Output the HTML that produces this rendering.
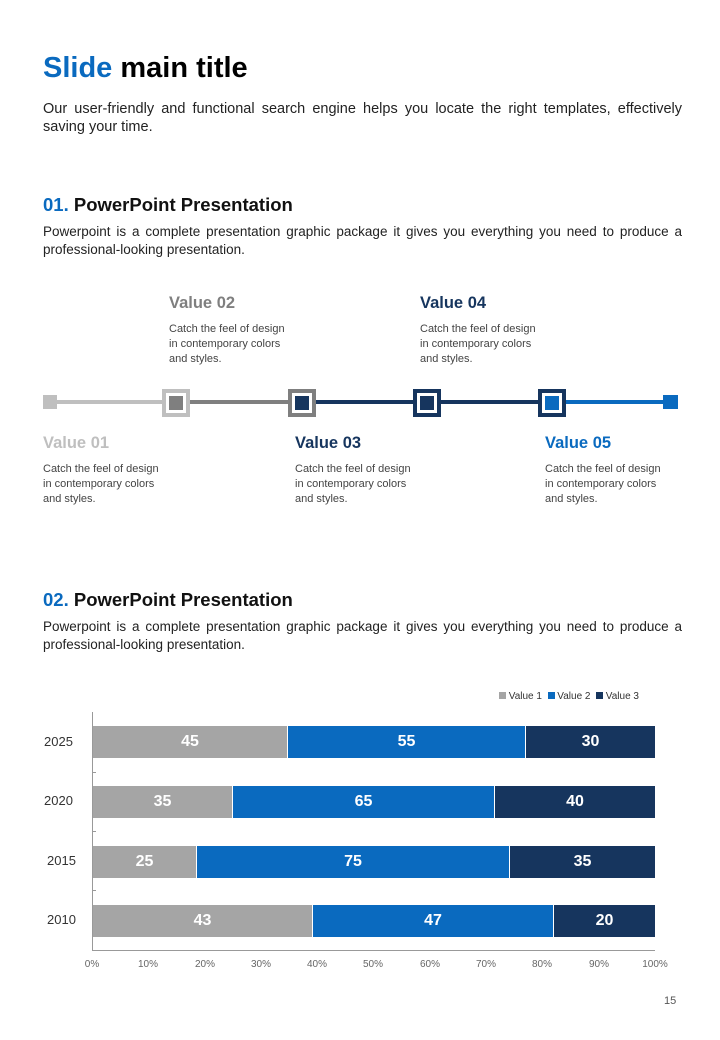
<!DOCTYPE html>
<html><head><meta charset="utf-8"><style>
body{margin:0;width:720px;height:1040px;background:#fff;position:relative;font-family:"Liberation Sans",sans-serif;color:#222;overflow:hidden}
.a{position:absolute}
.p{left:43px;width:639px;font-size:13.5px;line-height:18px;text-align:justify;text-align-last:left}
.h{font-size:18.5px;font-weight:bold;color:#111}
.b{color:#0a6abf}
.vt{font-size:16.5px;font-weight:bold}
.vd{font-size:11px;line-height:15px;color:#444}
.seg{position:absolute;height:4px;top:400px}
.bar{position:absolute;height:32px;color:#fff;font-size:16px;font-weight:bold;text-align:center;line-height:32px}
.yl{position:absolute;left:40px;font-size:13px;color:#333}
.xl{position:absolute;top:959px;font-size:10px;color:#666;width:40px;margin-left:-20px;text-align:center}
</style></head><body>
<div class="a" style="left:43px;top:52px;font-size:29px;font-weight:bold;color:#000"><span class="b">Slide</span> main title</div>
<div class="a p" style="top:100px;font-size:14.5px">Our user-friendly and functional search engine helps you locate the right templates, effectively saving your time.</div>
<div class="a h" style="left:43px;top:194px"><span class="b">01.</span> PowerPoint Presentation</div>
<div class="a p" style="top:223px">Powerpoint is a complete presentation graphic package it gives you everything you need to produce a professional-looking presentation.</div>

<div class="seg" style="left:57px;width:105px;background:#bfbfbf"></div>
<div class="seg" style="left:190px;width:98px;background:#7f7f7f"></div>
<div class="seg" style="left:316px;width:97px;background:#16355e"></div>
<div class="seg" style="left:441px;width:97px;background:#16355e"></div>
<div class="seg" style="left:566px;width:97px;background:#0a6abf"></div>
<div class="a" style="left:43px;top:395px;width:14px;height:14px;background:#bfbfbf"></div>
<div class="a" style="left:663px;top:395px;width:15px;height:14px;background:#0a6abf"></div>
<div class="a" style="left:162px;top:389px;width:20px;height:20px;border:4px solid #bfbfbf;background:#fff"><div style="margin:3px;width:14px;height:14px;background:#7f7f7f"></div></div>
<div class="a" style="left:288px;top:389px;width:20px;height:20px;border:4px solid #7f7f7f;background:#fff"><div style="margin:3px;width:14px;height:14px;background:#16355e"></div></div>
<div class="a" style="left:413px;top:389px;width:20px;height:20px;border:4px solid #16355e;background:#fff"><div style="margin:3px;width:14px;height:14px;background:#16355e"></div></div>
<div class="a" style="left:538px;top:389px;width:20px;height:20px;border:4px solid #16355e;background:#fff"><div style="margin:3px;width:14px;height:14px;background:#0a6abf"></div></div>

<div class="a vt" style="left:169px;top:294px;color:#7f7f7f">Value 02</div>
<div class="a vd" style="left:169px;top:322px">Catch the feel of design<br>in contemporary colors<br>and styles.</div>
<div class="a vt" style="left:420px;top:294px;color:#16355e">Value 04</div>
<div class="a vd" style="left:420px;top:322px">Catch the feel of design<br>in contemporary colors<br>and styles.</div>
<div class="a vt" style="left:43px;top:434px;color:#bfbfbf">Value 01</div>
<div class="a vd" style="left:43px;top:462px">Catch the feel of design<br>in contemporary colors<br>and styles.</div>
<div class="a vt" style="left:295px;top:434px;color:#16355e">Value 03</div>
<div class="a vd" style="left:295px;top:462px">Catch the feel of design<br>in contemporary colors<br>and styles.</div>
<div class="a vt" style="left:545px;top:434px;color:#0a6abf">Value 05</div>
<div class="a vd" style="left:545px;top:462px">Catch the feel of design<br>in contemporary colors<br>and styles.</div>

<div class="a h" style="left:43px;top:589px"><span class="b">02.</span> PowerPoint Presentation</div>
<div class="a p" style="top:618px">Powerpoint is a complete presentation graphic package it gives you everything you need to produce a professional-looking presentation.</div>

<div class="a" style="left:499px;top:691px;font-size:10px;color:#333">
<span style="display:inline-block;width:7px;height:7px;background:#a5a5a5"></span> Value 1&nbsp;
<span style="display:inline-block;width:7px;height:7px;background:#0a6abf"></span> Value 2&nbsp;
<span style="display:inline-block;width:7px;height:7px;background:#16355e"></span> Value 3</div>

<div class="a" style="left:92px;top:712px;width:1px;height:238px;background:#999"></div>
<div class="a" style="left:92px;top:950px;width:563px;height:1px;background:#999"></div>
<div class="a" style="left:92px;top:772px;width:4px;height:1px;background:#999"></div>
<div class="a" style="left:92px;top:831px;width:4px;height:1px;background:#999"></div>
<div class="a" style="left:92px;top:890px;width:4px;height:1px;background:#999"></div>

<div class="bar" style="top:726px;left:93px;width:194px;background:#a5a5a5">45</div>
<div class="bar" style="top:726px;left:288px;width:237px;background:#0a6abf">55</div>
<div class="bar" style="top:726px;left:526px;width:129px;background:#16355e">30</div>
<div class="bar" style="top:786px;left:93px;width:139px;background:#a5a5a5">35</div>
<div class="bar" style="top:786px;left:233px;width:261px;background:#0a6abf">65</div>
<div class="bar" style="top:786px;left:495px;width:160px;background:#16355e">40</div>
<div class="bar" style="top:846px;left:93px;width:103px;background:#a5a5a5">25</div>
<div class="bar" style="top:846px;left:197px;width:312px;background:#0a6abf">75</div>
<div class="bar" style="top:846px;left:510px;width:145px;background:#16355e">35</div>
<div class="bar" style="top:905px;left:93px;width:219px;background:#a5a5a5">43</div>
<div class="bar" style="top:905px;left:313px;width:240px;background:#0a6abf">47</div>
<div class="bar" style="top:905px;left:554px;width:101px;background:#16355e">20</div>

<div class="yl" style="top:734px;left:44px">2025</div>
<div class="yl" style="top:793px;left:44px">2020</div>
<div class="yl" style="top:853px;left:47px">2015</div>
<div class="yl" style="top:912px;left:47px">2010</div>

<div class="xl" style="left:92px">0%</div><div class="xl" style="left:148px">10%</div><div class="xl" style="left:205px">20%</div><div class="xl" style="left:261px">30%</div><div class="xl" style="left:317px">40%</div><div class="xl" style="left:373px">50%</div><div class="xl" style="left:430px">60%</div><div class="xl" style="left:486px">70%</div><div class="xl" style="left:542px">80%</div><div class="xl" style="left:599px">90%</div><div class="xl" style="left:655px">100%</div>

<div class="a" style="left:664px;top:995px;font-size:11px;color:#555">15</div>
</body></html>
